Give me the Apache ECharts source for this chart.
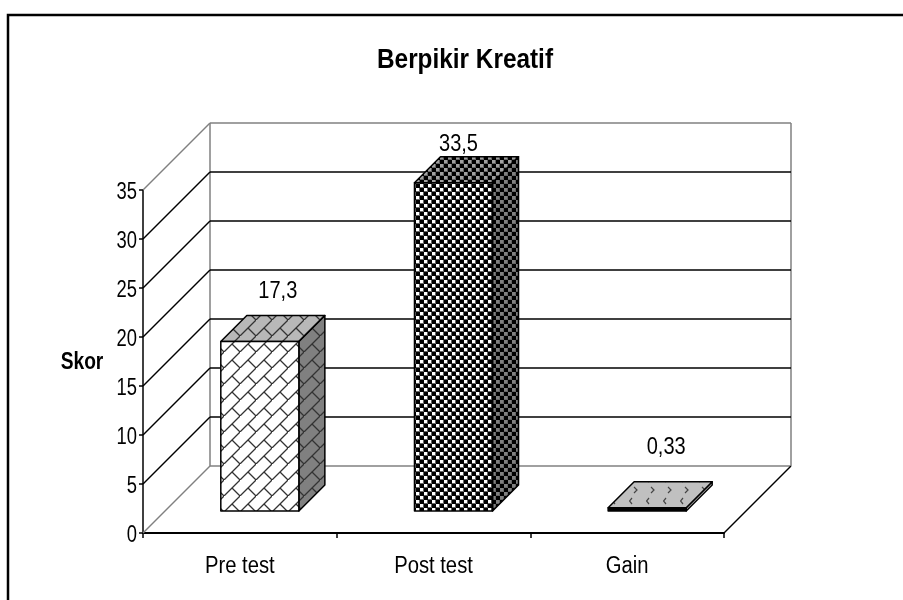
<!DOCTYPE html>
<html>
<head>
    <meta charset="UTF-8">
    <title>Berpikir Kreatif</title>
    <script src="https://cdn.jsdelivr.net/npm/echarts@6/dist/echarts.min.js"></script>
    <style>
        html, body { margin: 0; padding: 0; background: #fff; }
        #main { width: 903px; height: 600px; }
    </style>
</head>
<body>
<div id="main"></div>
<script type="text/javascript">
    var categories = ['Pre test', 'Post test', 'Gain'];
    var skor = [17.3, 33.5, 0.33];
    var ticks = [0, 5, 10, 15, 20, 25, 30, 35];

    // the original text is a narrow face, none is installed so Liberation Sans gets squeezed
    var font = '"Liberation Sans", Arial, sans-serif';
    var wallDepth = 67;   // depth of the floor, px
    var barDepth = 26;    // depth of a bar, px
    var barShiftX = 20;
    var barShiftY = 22;
    // labels were hand placed in the original, so each has its own nudge
    var labelNudge = [[5, -24], [-8, -12], [6, -34]];

    function tile(w, h, bg, draw) {
        var c = document.createElement('canvas');
        c.width = w;
        c.height = h;
        var ctx = c.getContext('2d');
        ctx.fillStyle = bg;
        ctx.fillRect(0, 0, w, h);
        draw(ctx);
        return {image: c, repeat: 'repeat'};
    }

    function shingle(bg) {
        return tile(16, 16, bg, function (ctx) {
            ctx.strokeStyle = '#333';
            ctx.lineWidth = 1.3;
            ctx.beginPath();
            ctx.moveTo(-1, 17); ctx.lineTo(17, -1);
            ctx.moveTo(8, 8); ctx.lineTo(17, 17);
            ctx.stroke();
        });
    }

    function checker(bg) {
        return tile(8, 8, '#666', function (ctx) {
            ctx.fillStyle = '#000';
            ctx.fillRect(0, 0, 4, 4);
            ctx.fillRect(4, 4, 4, 4);
            ctx.fillStyle = bg;
            ctx.fillRect(4, 0, 3, 3);
            ctx.fillRect(0, 4, 3, 3);
        });
    }

    function chevrons(bg) {
        return tile(17, 22, bg, function (ctx) {
            ctx.strokeStyle = '#444';
            ctx.lineWidth = 1.2;
            ctx.beginPath();
            ctx.moveTo(5, 3); ctx.lineTo(8, 6); ctx.lineTo(5, 9);
            ctx.moveTo(3, 14); ctx.lineTo(0.5, 17); ctx.lineTo(3, 20);
            ctx.stroke();
        });
    }

    // front, top, side fill for each bar
    var barFills = [
        [shingle('#ffffff'), shingle('#b8b8b8'), shingle('#808080')],
        [checker('#ffffff'), checker('#a0a0a0'), checker('#808080')],
        ['#000000', chevrons('#c0c0c0'), '#c0c0c0']
    ];

    function seg(x1, y1, x2, y2, color, width) {
        return {
            type: 'line',
            shape: {x1: x1, y1: y1, x2: x2, y2: y2},
            style: {stroke: color, lineWidth: width}
        };
    }

    function label(text, x, y, size, squeeze, align, weight) {
        return {
            type: 'text',
            x: x,
            y: y,
            scaleX: squeeze,
            style: {
                text: text,
                font: (weight || 'normal') + ' ' + size + 'px ' + font,
                fill: '#000',
                align: align,
                verticalAlign: 'middle'
            }
        };
    }

    function renderWall(params, api) {
        var tick = api.value(1);
        var y = api.coord([0, tick])[1];
        var cs = params.coordSys;
        var left = cs.x;
        var right = cs.x + cs.width;
        var d = wallDepth;
        var isEdge = tick === ticks[0] || tick === ticks[ticks.length - 1];
        var color = isEdge ? '#808080' : '#000';
        var children = [
            seg(left, y, left + d, y - d, color, 1.5),
            seg(left + d, y - d, right + d, y - d, color, 1.5)
        ];
        if (tick === ticks[0]) {
            children.push(seg(right, y, right + d, y - d, '#000', 1.5));
            var topY = api.coord([0, ticks[ticks.length - 1]])[1];
            children.push(seg(left + d, y - d, left + d, topY - d, '#808080', 1.5));
            children.push(seg(right + d, y - d, right + d, topY - d, '#808080', 1.5));
        }
        return {type: 'group', children: children};
    }

    function renderTickLabel(params, api) {
        var y = api.coord([0, api.value(1)])[1];
        return label(String(api.value(1)), params.coordSys.x - 6, y + 3, 23, 0.8, 'right');
    }

    function renderCategoryLabel(params, api) {
        var p = api.coord([params.dataIndex, 0]);
        return label(categories[params.dataIndex], p[0], p[1] + 34, 23, 0.88, 'center');
    }

    function face(points, fill) {
        return {
            type: 'polygon',
            shape: {points: points},
            style: {fill: fill, stroke: '#000', lineWidth: 1.5, lineJoin: 'round'}
        };
    }

    function renderBar(params, api) {
        var i = params.dataIndex;
        var base = api.coord([i, 0]);
        var top = api.coord([i, api.value(1)]);
        var w = api.size([1, 0])[0] * 0.403;
        var x0 = base[0] + barShiftX - w / 2;
        var x1 = x0 + w;
        var yb = base[1] - barShiftY;
        var yt = top[1] - barShiftY;
        var d = barDepth;
        var fills = barFills[i];
        return {
            type: 'group',
            children: [
                face([[x1, yb], [x1 + d, yb - d], [x1 + d, yt - d], [x1, yt]], fills[2]),
                face([[x0, yt], [x1, yt], [x1 + d, yt - d], [x0 + d, yt - d]], fills[1]),
                face([[x0, yb], [x1, yb], [x1, yt], [x0, yt]], fills[0]),
                label(String(api.value(1)).replace('.', ','),
                    (x0 + x1 + d) / 2 + labelNudge[i][0], yt - d + labelNudge[i][1], 23, 0.87, 'center')
            ]
        };
    }

    var chart = echarts.init(document.getElementById('main'));
    var option = {
        animation: false,
        backgroundColor: '#fff',
        graphic: [
            {
                type: 'polyline',
                silent: true,
                shape: {points: [[8, 600], [8, 15], [903, 15]]},
                style: {fill: 'none', stroke: '#000', lineWidth: 2.5}
            },
            label('Berpikir Kreatif', 465, 60, 28, 0.87, 'center', 'bold'),
            label('Skor', 82, 362, 24, 0.8, 'center', 'bold')
        ],
        grid: {left: 143, right: 179, top: 190, bottom: 67},
        xAxis: {
            type: 'category',
            data: categories,
            axisLine: {lineStyle: {color: '#000', width: 2}},
            axisTick: {show: true, alignWithLabel: false, length: 5, lineStyle: {color: '#000', width: 1.5}},
            axisLabel: {show: false},
            splitLine: {show: false}
        },
        yAxis: {
            type: 'value',
            min: 0,
            max: 35,
            interval: 5,
            axisLine: {show: true, lineStyle: {color: '#000', width: 1.5}},
            axisTick: {show: true, length: 4, lineStyle: {color: '#000', width: 1.5}},
            axisLabel: {show: false},
            splitLine: {show: false}
        },
        series: [
            {
                type: 'custom',
                z: 2,
                silent: true,
                renderItem: renderWall,
                data: ticks.map(function (t) { return [0, t]; })
            },
            {
                type: 'custom',
                z: 3,
                silent: true,
                renderItem: renderBar,
                data: skor.map(function (v, i) { return [i, v]; })
            },
            {
                type: 'custom',
                z: 4,
                silent: true,
                renderItem: renderTickLabel,
                data: ticks.map(function (t) { return [0, t]; })
            },
            {
                type: 'custom',
                z: 4,
                silent: true,
                renderItem: renderCategoryLabel,
                data: categories.map(function (c, i) { return [i, 0]; })
            }
        ]
    };
    chart.setOption(option);
</script>
</body>
</html>
